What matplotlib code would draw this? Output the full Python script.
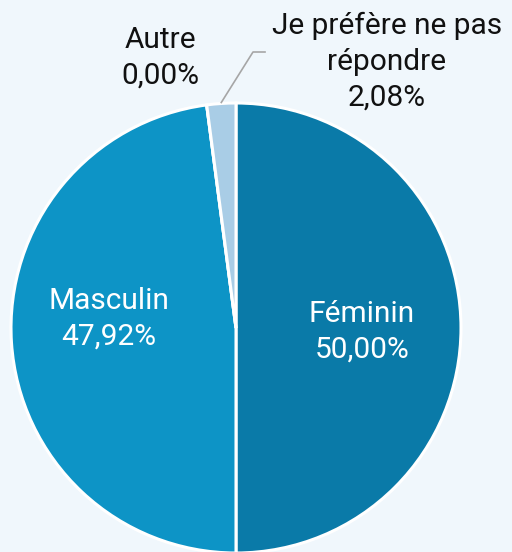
import matplotlib.pyplot as plt
import numpy as np

plt.rcParams['font.family'] = ['Roboto', 'DejaVu Sans']

labels = ["Féminin", "Masculin", "Autre", "Je préfère ne pas\nrépondre"]
values = [50.00, 47.92, 0.00, 2.08]
colors = ["#0a7aa8", "#0d94c6", "#7fb8dc", "#a9cde6"]
bg = "#f0f7fc"

fig = plt.figure(figsize=(5.12, 5.52), dpi=100, facecolor=bg)
ax = fig.add_axes([0, 0, 1, 1])
ax.set_facecolor(bg)

cx, cy, r = 236, 552 - 328, 225
wedges, _ = ax.pie(
    values,
    colors=colors,
    startangle=90,
    counterclock=False,
    center=(cx, cy),
    radius=r,
    wedgeprops=dict(edgecolor="white", linewidth=2.2),
    frame=True,
)
ax.set_xlim(0, 512)
ax.set_ylim(0, 552)
ax.set_aspect("equal")
ax.axis("off")

def fmt(v):
    return f"{v:.2f}%".replace(".", ",")

fs = 21.5
ls = 1.36
# inside labels
ax.text(362, 552 - 332, f"{labels[0]}\n{fmt(values[0])}", color="white",
        ha="center", va="center", fontsize=fs, linespacing=ls)
ax.text(109, 552 - 319, f"{labels[1]}\n{fmt(values[1])}", color="white",
        ha="center", va="center", fontsize=fs, linespacing=ls)
# outside labels
ax.text(160, 552 - 58, f"{labels[2]}\n{fmt(values[2])}", color="#111111",
        ha="center", va="center", fontsize=fs, linespacing=ls)
ax.text(387, 552 - 62, f"{labels[3]}\n{fmt(values[3])}", color="#111111",
        ha="center", va="center", fontsize=fs, linespacing=ls)

# leader line for the small slice
w = wedges[3]
mid = np.deg2rad((w.theta1 + w.theta2) / 2)
px, py = cx + r * np.cos(mid), cy + r * np.sin(mid)
ax.plot([px, 253, 265], [py + 1, 552 - 52, 552 - 52], color="#a6a6a6", lw=1.2)

fig.savefig("out.png", dpi=100, facecolor=bg)
